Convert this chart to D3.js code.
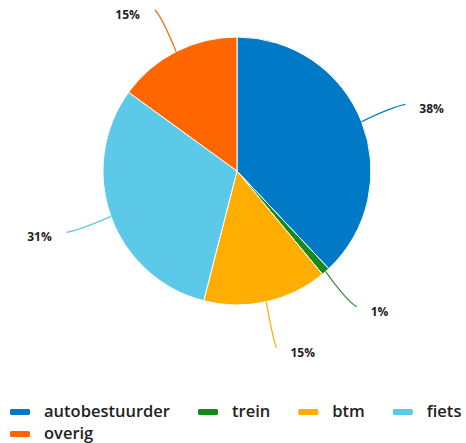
<!DOCTYPE html>
<html>
<head>
<meta charset="utf-8">
<script src="https://cdn.jsdelivr.net/npm/d3@7"></script>
<style>
  html, body { margin: 0; padding: 0; background: #fff; }
  svg { display: block; font-family: "Open Sans", "DejaVu Sans", sans-serif; }
</style>
</head>
<body>
<svg id="chart" width="466" height="443"></svg>
<script>
// Verdeling naar vervoerwijze (percentages)
const categories = ["autobestuurder", "trein", "btm", "fiets", "overig"];
const values = [38, 1, 15, 31, 15];
const colors = ["#0079c6", "#158a1c", "#ffae00", "#5bc9e7", "#ff6600"];

const svg = d3.select("#chart");
const cx = 237, cy = 171, radius = 134;

const data = categories.map((c, i) => ({ name: c, value: values[i], color: colors[i] }));

const pie = d3.pie().sort(null).value(d => d.value);
const arcs = pie(data);
const arc = d3.arc().innerRadius(0).outerRadius(radius);

const g = svg.append("g").attr("transform", `translate(${cx},${cy})`);

g.selectAll("path.slice")
  .data(arcs)
  .enter().append("path")
  .attr("class", "slice")
  .attr("d", arc)
  .attr("fill", d => d.data.color)
  .attr("stroke", "#fff")
  .attr("stroke-width", 1);

// Connector lines and value labels
const outer = radius + 47;
function polar(r, a) { return [r * Math.sin(a), -r * Math.cos(a)]; }

arcs.forEach(d => {
  const mid = (d.startAngle + d.endAngle) / 2;
  const a = polar(radius, mid);
  const b = polar(outer, mid);
  const right = Math.sin(mid) >= 0;
  // gentle bend toward the horizontal near the label
  const c = polar(radius + 32, mid);
  const ctrl = [c[0], (c[1] + b[1]) / 2];
  const path = d3.path();
  path.moveTo(a[0], a[1]);
  path.quadraticCurveTo(ctrl[0], ctrl[1], b[0], b[1]);
  g.append("path")
    .attr("d", path.toString())
    .attr("fill", "none")
    .attr("stroke", d.data.color)
    .attr("stroke-width", 1.2);
  g.append("text")
    .attr("x", b[0] + (right ? 14 : -15))
    .attr("y", b[1] + 9)
    .attr("text-anchor", right ? "start" : "end")
    .attr("font-size", 12)
    .attr("font-weight", 700)
    .attr("fill", "#222")
    .text(d.data.value + "%");
});

// Legend, wrapping onto a second row
const legend = svg.append("g");
let lx = 10, ly = 413;
const maxX = 468;
data.forEach(d => {
  const item = legend.append("g");
  item.append("rect")
    .attr("x", 0).attr("y", -4)
    .attr("width", 20).attr("height", 6)
    .attr("rx", 1.5)
    .attr("fill", d.color);
  const t = item.append("text")
    .attr("x", 34).attr("y", 4)
    .attr("font-size", 16.5)
    .attr("font-weight", 600)
    .attr("fill", "#222")
    .text(d.name);
  const w = 34 + t.node().getComputedTextLength();
  if (lx + w > maxX && lx > 10) { lx = 10; ly += 22; }
  item.attr("transform", `translate(${lx},${ly})`);
  lx += w + 28;
});
</script>
</body>
</html>
